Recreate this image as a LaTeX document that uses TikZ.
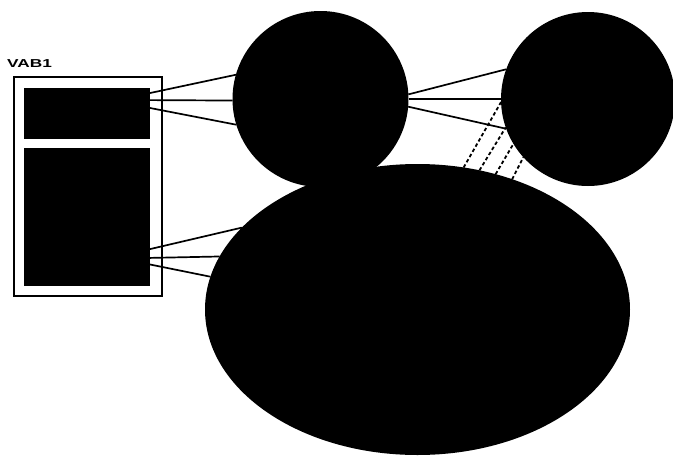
\documentclass[tikz,border=0pt]{standalone}
\usepackage{fontspec}
\setmainfont{Liberation Sans}
\usetikzlibrary{shapes.geometric}

\begin{document}
\begin{tikzpicture}[x=1pt, y=-1pt,
        blob/.style={fill=black, draw=none, inner sep=0pt, outer sep=0pt},
        link/.style={line width=1.7pt},
        hatch/.style={line width=1.8pt, dash pattern=on 3.5pt off 2.5pt}]
        \useasboundingbox (0,0) rectangle (673,456);

        % VAB1 box with its two slots
        \node[draw, line width=2pt, minimum width=148pt, minimum height=219pt, inner sep=0pt] (Box) at (88,186.5) {};
        \node[anchor=south west, inner sep=0pt, font=\bfseries\fontsize{11.5}{13}\selectfont] (Label) at (7,67.5) {\scalebox{1.5}[1]{VAB1}};
        \node[blob, rectangle, minimum width=126pt, minimum height=51pt] (Slot1) at (87,113.5) {};
        \node[blob, rectangle, minimum width=126pt, minimum height=138pt] (Slot2) at (87,217) {};

        % Disks
        \node[blob, circle, minimum size=176pt] (Disk1) at (320.5,99) {};
        \node[blob, circle, minimum size=174pt] (Disk2) at (588,99) {};
        \node[blob, ellipse, minimum width=425pt, minimum height=291pt] (Pool) at (417.5,309.5) {};

        % Upper slot to first disk
        \draw[link] (Slot1.18) -- (Disk1.164);
        \draw[link] (Slot1.12) -- (Disk1.181);
        \draw[link] (Slot1.5) -- (Disk1.197);

        % Lower slot to pool
        \draw[link] (Slot2.-27.3) -- (Pool.155.6);
        \draw[link] (Slot2.-33.9) -- (Pool.165.9);
        \draw[link] (Slot2.-37.3) -- (Pool.171.6);

        % First disk to second disk
        \draw[link] (Disk1.3.9) -- (Disk2.160);
        \draw[link] (Disk1.-0.7) -- (Disk2.180.7);
        \draw[link] (Disk1.-5.9) -- (Disk2.200);

        % Pool to second disk
        \draw[hatch] (Pool.72.3) -- (Disk2.182.7);
        \draw[hatch] (Pool.66.6) -- (Disk2.199);
        \draw[hatch] (Pool.60.2) -- (Disk2.211.4);
        \draw[hatch] (Pool.54.1) -- (Disk2.222.7);
    \end{tikzpicture}
\end{document}
